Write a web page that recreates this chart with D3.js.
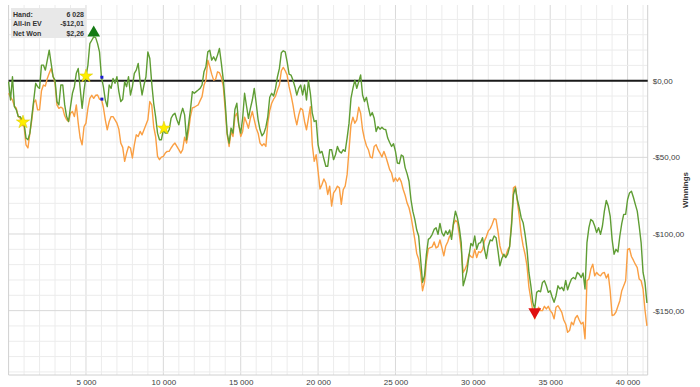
<!DOCTYPE html>
<html>
<head>
<meta charset="utf-8">
<script src="https://cdn.jsdelivr.net/npm/d3@7"></script>
<style>
  body { margin: 0; background: #fff; }
  text { font-family: "Liberation Sans", Arial, sans-serif; }
</style>
</head>
<body>
<script>
// Data // ----------------------------------------------------------------------
// one reading every 125 hands
var handStep = 125;

var netWon = [
  -0.6, -12.6, 2.6, -16.9, -19, -23.4, -23.4, -25.5, -27.7, -37.4,
  -38.5, -34.2, -23.4, -12.6, -1.7, -3.9, -5, 10.2, 10.2, 6.9,
  13.4, 19.9, 11.3, 2.6, 0.4, -13.6, -15.8, -2.8, -2.8, -15.8,
  -23.4, -26.6, -16.9, -8.2, -3.9, 4.8, 8, -5, -18, -6.1,
  2.6, 10.2, 24.2, 26.4, 28.6, 28.1, 24.2, 18.8, 2.3, -3.9,
  -12.6, -16.9, -2.8, -5, 1.5, -1.7, 2.6, -7.1, -13.6, -12.1,
  -0.6, -3.9, 2.6, -9.3, -3.9, 4.8, 6.9, 11.3, -0.6, -9.3,
  -2.8, 2.6, 18.8, 14.5, -1.7, -14.7, -23.4, -34.2, -38.5, -38.5,
  -32, -34.2, -34.2, -32, -24.5, -22.3, -21.2, -25.5, -28.8, -22.3,
  -18, -22.3, -38.5, -28.8, -19, -7.1, -8.2, -7.1, -6.1, -5,
  -2.8, 5.8, 9.1, 18.8, 19.9, 13.4, 15.6, 13, 16.7, 21,
  11.3, 0.4, -14.7, -34.2, -40.7, -30.9, -34.2, -18.8, -14.7, -28.8,
  -34.2, -24.5, -8.2, -16.5, -24.5, -18, -12.6, -5, -14.7, -25.5,
  -32, -35.9, -34.2, -30.3, -23.4, -10.8, -8.2, -10, -5, 2.6,
  8, 18.2, 19.5, 18.8, 12.3, 4.3, 3.7, 0.4, -3.9, -9.3,
  -5, -2.8, -9.3, -2.8, -12.6, 0, -8.2, -21.2, -26.6, -26,
  -41.8, -47.2, -46.1, -51.1, -55.8, -55.8, -45, -45, -51.5, -48.3,
  -42.9, -46.1, -47.2, -45, -46.1, -37.4, -27.7, -11.5, -5, 0.4,
  -5, -0.6, 3.7, -9.3, -13.6, -10.8, -17.3, -22.9, -20.8, -24.5,
  -33.1, -29.9, -31.6, -30.3, -31.6, -32, -37.4, -40.3, -42.9, -41.1,
  -46.1, -53.7, -54.1, -48.5, -49.4, -56.7, -60.6, -65.6, -77.5, -85.3,
  -90.5, -97.4, -101.3, -116.5, -131.6, -127.3, -113.2, -103.5, -102.4, -100.2,
  -97, -95.9, -100.2, -93.1, -99.1, -101.3, -98, -100.2, -97.4, -103.5,
  -92.6, -85.1, -89.4, -95.9, -105.6, -133.8, -129.4, -124, -114.3, -106.1,
  -107.8, -101.3, -110, -106.1, -105.6, -102.4, -110, -116, -107.8, -103.9,
  -104.5, -101.3, -102.4, -111, -120.8, -116, -113.2, -115.4, -113.2, -108.4,
  -94.8, -74.2, -69.9, -77.5, -82.9, -89.4, -92.6, -100.2, -110, -125.1,
  -133.8, -144.6, -148.9, -138.1, -137, -137.7, -131.6, -130.5, -133.8, -138.1,
  -137, -141.1, -144.6, -140.3, -133.8, -135.9, -134.8, -137, -130.3, -136.4,
  -132.5, -129.4, -128.4, -129.4, -125.1, -126.2, -128.4, -125.5, -135.9, -105.6,
  -95.9, -90.5, -91.6, -94.8, -99.1, -95.9, -100.2, -94.8, -85.1, -78.1,
  -81.8, -88.3, -103.5, -113.2, -110, -111.7, -101.3, -93.1, -87.2, -87.2,
  -77.5, -73.2, -72.1, -76, -80.7, -85.1, -94.8, -105.6, -125.1, -131.6,
  -145
];

var allInEv = [
  -8.2, -10.8, -12.6, -16.5, -18, -23.4, -24.5, -28.8, -29.9, -41.8,
  -43.9, -34.2, -25.5, -14.3, -12.6, -19, -19, -6.5, -2.8, -3.5,
  1.5, 4.8, 8, 3, -1.7, -15.8, -18, -17.3, -18, -22.9,
  -25.5, -26.6, -21.2, -20.1, -23.4, -15.8, -27.7, -37.4, -41.8, -29.9,
  -27.7, -18, -11.5, -9.5, -11.5, -9.5, -9.3, -12.1, -12, -17.3,
  -25.5, -32, -26.6, -23.4, -23.4, -25.5, -27.7, -31.6, -40.7, -43.5,
  -52.6, -47.2, -42.9, -43.9, -50.4, -41.8, -35.3, -36.4, -33.1, -35.3,
  -32, -28.8, -25.5, -13.6, -15.8, -29.9, -36.4, -49.4, -51.5, -49.8,
  -49.4, -47.2, -46.1, -46.1, -43.9, -42, -40.7, -42.9, -45, -47.2,
  -45, -36.8, -40.7, -33.1, -23.4, -17.7, -17.3, -16.5, -15.8, -13,
  -10.4, -3, 0.4, 13.4, 9.1, 4.3, 0.4, 0.9, 5.8, 5.2,
  2.2, -3.9, -19, -35.3, -42.9, -33.1, -36.4, -23.4, -21.2, -28.8,
  -36.4, -33.1, -23.8, -27.3, -31, -24.5, -20.1, -25.5, -31, -34.2,
  -40.7, -42.4, -41.1, -42.9, -27.7, -19.5, -14.7, -12.1, -10, -6.1,
  -2.8, 6.5, 8.7, 6.5, 3.7, -3.9, -9.3, -15.8, -23.4, -28.8,
  -22.3, -18, -19, -26.6, -32, -24.5, -16.9, -41.8, -52.6, -48.3,
  -59.1, -70.6, -67.7, -64.1, -66.7, -74.2, -68.8, -81.8, -73.2, -71.4,
  -68.8, -69.9, -80.7, -71, -68.8, -61.3, -45, -28.8, -23.8, -27.7,
  -25.5, -17.3, -21.2, -32, -38.1, -42.4, -45, -49.8, -50.4, -42.9,
  -41.8, -45, -47.2, -49.8, -46.1, -49.4, -53.7, -58, -60.2, -65.8,
  -63.4, -65.6, -63.4, -66, -71, -74.7, -79.7, -82.9, -88.3, -95.7,
  -103.5, -112.8, -116.5, -125.1, -137, -131.6, -117.7, -109.5, -108.9, -108.4,
  -105.2, -109.1, -108.2, -103.9, -108.9, -114.3, -107.8, -105.2, -101.3, -101.3,
  -93.7, -91.1, -92.2, -100.2, -110, -125.1, -122.9, -119.7, -113.2, -114.7,
  -115.4, -109.9, -115.4, -111.5, -112.1, -110.4, -104.5, -101.7, -98, -96.5,
  -93.7, -90, -90.5, -98.3, -107.8, -112.5, -114.7, -114.3, -110.4, -108.2,
  -92.6, -69.9, -68.8, -78.6, -88.3, -100.2, -107.8, -113.2, -120.8, -134.8,
  -142.4, -150.2, -155.4, -150.6, -147.8, -150, -150, -147.2, -148.9, -147.2,
  -150, -151.5, -155.4, -147.8, -146.8, -148.9, -151.1, -156.1, -158.7, -164.1,
  -163, -157.6, -159.3, -154.8, -153.2, -156.1, -158.7, -157.6, -168.4, -130.5,
  -129.4, -122.9, -119.7, -127.3, -125.1, -126.6, -127.3, -125.5, -125.1, -128.8,
  -126.2, -137, -153.2, -152.8, -150.9, -147.2, -143.5, -137, -133.8, -130.5,
  -110, -109.5, -114.7, -117.1, -119.7, -121.9, -129.4, -130.5, -135.9, -149.6,
  -160
];

var xTicks = [5000, 10000, 15000, 20000, 25000, 30000, 35000, 40000];
var yTicks = [0, -50, -100, -150];

// yellow star events on the net won line
var starHands = [930, 5000, 10040];
var starValues = [-27, 3, -31];

// hover read-out
var hoverHand = 6028;
var hoverEv = -12.01;
var hoverNet = 2.26;

// Layout // --------------------------------------------------------------------
var width = 700, height = 387;
var plot = {left: 8.6, right: 647.7, top: 5, bottom: 375};

var x = d3.scaleLinear().domain([0, 41300]).range([plot.left, plot.right]);
var y = d3.scaleLinear().domain([-192, 49.4]).range([plot.bottom, plot.top]);

var svg = d3.select("body").append("svg")
    .attr("width", width)
    .attr("height", height);

// grid
var grid = svg.append("g");
grid.selectAll(".vg")
    .data(d3.range(1000, 41300, 1000))
  .enter().append("line")
    .attr("x1", d => x(d)).attr("x2", d => x(d))
    .attr("y1", plot.top).attr("y2", plot.bottom)
    .attr("stroke", d => d % 5000 === 0 ? "#d9d9d9" : "#ececec")
    .attr("stroke-width", 1);

grid.selectAll(".hg")
    .data(d3.range(-190, 50, 10))
  .enter().append("line")
    .attr("x1", plot.left).attr("x2", plot.right)
    .attr("y1", d => y(d)).attr("y2", d => y(d))
    .attr("stroke", d => d % 50 === 0 ? "#d9d9d9" : "#ececec")
    .attr("stroke-width", 1);

// plot frame (left, bottom, right)
svg.append("path")
    .attr("d", "M" + plot.left + "," + plot.top + "V" + plot.bottom + "H" + plot.right + "V" + plot.top)
    .attr("fill", "none")
    .attr("stroke", "#d0d0d0");

// zero line
svg.append("line")
    .attr("x1", plot.left).attr("x2", plot.right)
    .attr("y1", y(0)).attr("y2", y(0))
    .attr("stroke", "#1a1a1a")
    .attr("stroke-width", 2);

// lines
var line = d3.line()
    .x((d, i) => x(i * handStep))
    .y(d => y(d));

svg.append("path")
    .datum(allInEv)
    .attr("d", line)
    .attr("fill", "none")
    .attr("stroke", "#fa9f43")
    .attr("stroke-width", 1.4)
    .attr("stroke-linejoin", "round");

svg.append("path")
    .datum(netWon)
    .attr("d", line)
    .attr("fill", "none")
    .attr("stroke", "#5f9d34")
    .attr("stroke-width", 1.4)
    .attr("stroke-linejoin", "round");

// markers
var maxI = d3.maxIndex(netWon), minI = d3.minIndex(netWon);
svg.append("path")
    .attr("d", d3.symbol(d3.symbolTriangle, 70))
    .attr("transform", "translate(" + x(maxI * handStep) + "," + (y(netWon[maxI]) - 4) + ")")
    .attr("fill", "#147a14");
svg.append("path")
    .attr("d", d3.symbol(d3.symbolTriangle, 70))
    .attr("transform", "translate(" + x(minI * handStep) + "," + (y(netWon[minI]) + 3) + ") rotate(180)")
    .attr("fill", "#e01010");

svg.selectAll(".star")
    .data(starHands)
  .enter().append("path")
    .attr("d", d3.symbol(d3.symbolStar, 55))
    .attr("transform", (d, i) => "translate(" + x(d) + "," + y(starValues[i]) + ")")
    .attr("fill", "#ffee00")
    .attr("stroke", "#d4c400")
    .attr("stroke-width", 0.5);

svg.selectAll(".hov")
    .data([hoverNet, hoverEv])
  .enter().append("rect")
    .attr("x", x(hoverHand) - 1.5).attr("y", d => y(d) - 1.5)
    .attr("width", 3).attr("height", 3)
    .attr("fill", "#1a1ad0");

// axes
var xAxis = svg.append("g")
    .attr("transform", "translate(0," + plot.bottom + ")")
    .call(d3.axisBottom(x).tickValues(xTicks).tickSize(0).tickPadding(4)
      .tickFormat(d => d3.format(",")(d).replace(",", " ")));
xAxis.select(".domain").remove();
xAxis.selectAll("text").attr("font-size", 8).attr("fill", "#404040")
    .style("font-family", "'Liberation Sans', Arial, sans-serif");

var yAxis = svg.append("g")
    .attr("transform", "translate(" + (plot.right + 5) + ",0)")
    .call(d3.axisRight(y).tickValues(yTicks).tickSize(0).tickPadding(0)
      .tickFormat(d => (d < 0 ? "-" : "") + "$" + Math.abs(d).toFixed(2).replace(".", ",")));
yAxis.select(".domain").remove();
yAxis.selectAll("text").attr("font-size", 8).attr("fill", "#404040")
    .style("font-family", "'Liberation Sans', Arial, sans-serif");

svg.append("text")
    .attr("transform", "translate(688," + ((plot.top + plot.bottom) / 2) + ") rotate(-90)")
    .attr("text-anchor", "middle")
    .attr("font-size", 8)
    .attr("font-weight", "bold")
    .attr("fill", "#333")
    .text("Winnings");

// hover box
var box = svg.append("g");
box.append("rect")
    .attr("x", 11).attr("y", 8).attr("width", 75).attr("height", 30)
    .attr("fill", "#e8e8e8");
var rows = [["Hand:", d3.format(",")(hoverHand).replace(",", " ")],
            ["All-in EV", "-$" + Math.abs(hoverEv).toFixed(2).replace(".", ",")],
            ["Net Won", "$" + hoverNet.toFixed(2).replace(".", ",")]];
rows.forEach(function(r, i) {
  box.append("text").attr("x", 13).attr("y", 16.5 + i * 9.5)
     .attr("font-size", 7).attr("font-weight", "bold").attr("fill", "#333").text(r[0]);
  box.append("text").attr("x", 84).attr("y", 16.5 + i * 9.5).attr("text-anchor", "end")
     .attr("font-size", 7).attr("font-weight", "bold").attr("fill", "#333").text(r[1]);
});
</script>
</body>
</html>
